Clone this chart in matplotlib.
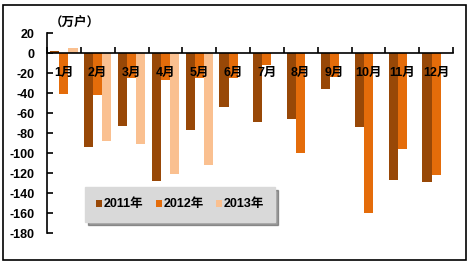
import matplotlib
matplotlib.use("Agg")
import matplotlib.pyplot as plt
import numpy as np
from matplotlib.patches import Rectangle

plt.rcParams['font.family'] = ['Liberation Sans', 'Noto Sans CJK SC', 'DejaVu Sans']

months = ['1月', '2月', '3月', '4月', '5月', '6月', '7月', '8月', '9月', '10月', '11月', '12月']
s2011 = [2, -94, -73, -128, -77, -54, -69, -66, -36, -74, -127, -129]
s2012 = [-41, -42, -25, -27, -25, -25, -12, -100, -24, -160, -96, -122]
s2013 = [5, -88, -91, -121, -112]
series_names = ['2011年', '2012年', '2013年']
colors = ['#984807', '#E46C0A', '#FAC090']
yticks = list(range(20, -181, -20))
unit = '（万户）'

fig = plt.figure(figsize=(4.73, 2.69), dpi=100)
ax = fig.add_axes([47/473, 1-233/269, 406/473, 200/269])

x = np.arange(len(months))
w = 0.27
ax.bar(x[:len(s2011)] - w, s2011, w, color=colors[0], label=series_names[0], zorder=2)
ax.bar(x[:len(s2012)], s2012, w, color=colors[1], label=series_names[1], zorder=2)
ax.bar(x[:len(s2013)] + w, s2013, w, color=colors[2], label=series_names[2], zorder=2)

ax.set_xlim(-0.5, len(months) - 0.5)
ax.set_ylim(-180, 20)
ax.set_yticks(yticks)
ax.set_yticklabels([str(v) for v in yticks], fontweight='bold', fontsize=9)
ax.tick_params(axis='y', direction='in', length=4, width=1.2, pad=9)

for s in ['top', 'right']:
    ax.spines[s].set_visible(False)
ax.spines['left'].set_linewidth(1.2)
ax.spines['bottom'].set_position(('data', 0))
ax.spines['bottom'].set_linewidth(1.2)
ax.spines['bottom'].set_zorder(3)
ax.set_xticks(np.arange(-0.5, len(months), 1.0))
ax.set_xticklabels([])
ax.tick_params(axis='x', direction='in', length=4, width=1.2)

for i, m in enumerate(months):
    ax.text(i, -20, m, ha='center', va='center', fontsize=9, fontweight='bold',
            zorder=5)

fig.text(75/473, 1-23.5/269, unit, ha='center', va='center', fontsize=9,
         fontweight='bold', family=['Noto Sans CJK SC', 'DejaVu Sans'])

leg = ax.legend(loc='center', bbox_to_anchor=(180/473, 1-204.5/269),
                bbox_transform=fig.transFigure, ncol=3, frameon=True,
                fancybox=False, shadow=True, handlelength=0.5, handleheight=0.5,
                handletextpad=0.1, columnspacing=1.0, borderpad=0.9,
                prop={'weight': 'bold', 'size': 9})
leg.get_frame().set_facecolor('#d9d9d9')
leg.get_frame().set_edgecolor('#d9d9d9')
leg.get_frame().set_alpha(1)
leg.set_zorder(6)

fig.patches.append(Rectangle((3/473, 1-260/269), 463/473, 255/269,
                             transform=fig.transFigure, fill=False,
                             edgecolor='black', linewidth=1.2))

fig.savefig('out.png', dpi=100)
